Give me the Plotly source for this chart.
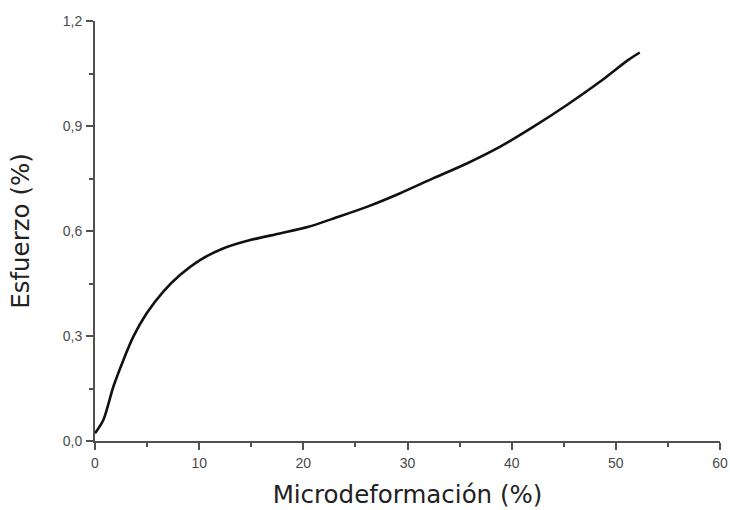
import plotly.graph_objects as go

# Data
strain = [0.0, 0.8, 1.76, 2.72, 3.68, 4.96, 6.56, 8.16, 10.08, 12.3, 14.9, 17.75,
          20.5, 22.9, 26.1, 29.3, 32.5, 35.7, 38.9, 42.1, 45.3, 48.5, 51.2, 52.3]
stress = [0.022, 0.06, 0.155, 0.231, 0.298, 0.365, 0.427, 0.474, 0.517, 0.55, 0.574, 0.593,
          0.612, 0.636, 0.669, 0.708, 0.751, 0.793, 0.841, 0.898, 0.96, 1.027, 1.089, 1.11]

x_ticks = [0, 10, 20, 30, 40, 50, 60]
y_ticks = [0.0, 0.3, 0.6, 0.9, 1.2]

x_title = "Microdeformación (%)"
y_title = "Esfuerzo (%)"

fig = go.Figure()
fig.add_trace(go.Scatter(
    x=strain, y=stress, mode="lines",
    line=dict(color="#111111", width=2.6, shape="spline", smoothing=0.8),
    hoverinfo="skip", showlegend=False,
))

tick_font = dict(family="Liberation Sans, Arial, sans-serif", size=14, color="#4a4a4a")
title_font = dict(family="DejaVu Sans, sans-serif", size=24.5, color="#222222")

fig.update_layout(
    width=730, height=510,
    margin=dict(l=95, r=10, t=21, b=69, autoexpand=False),
    paper_bgcolor="white", plot_bgcolor="white",
    separators=",.",
    showlegend=False,
)
fig.update_xaxes(
    range=[0, 60], tickvals=x_ticks, ticktext=[str(v) for v in x_ticks],
    showgrid=False, zeroline=False, automargin=False, ticklabeloverflow="allow",
    showline=True, linecolor="#505050", linewidth=2,
    ticks="outside", ticklen=7, tickwidth=2, tickcolor="#505050",
    minor=dict(dtick=5, tick0=0, ticks="outside", ticklen=4, tickwidth=2, tickcolor="#505050", showgrid=False),
    tickfont=tick_font, ticklabelstandoff=1,
    title=dict(text=x_title, font=title_font, standoff=16),
)
fig.update_yaxes(
    range=[0, 1.2], tickvals=y_ticks, tickformat=".1f",
    showgrid=False, zeroline=False, automargin=False, ticklabeloverflow="allow",
    showline=True, linecolor="#505050", linewidth=2,
    ticks="outside", ticklen=7, tickwidth=2, tickcolor="#505050",
    minor=dict(dtick=0.15, tick0=0, ticks="outside", ticklen=4, tickwidth=2, tickcolor="#505050", showgrid=False),
    tickfont=tick_font, ticklabelstandoff=1,
    title=dict(text=y_title, font=title_font, standoff=26),
)

# remove the default page margin so the 730x510 figure fills the window exactly
fig.write_html(
    "out.html",
    config={"displayModeBar": False, "staticPlot": True},
    post_script="document.body.style.margin='0';document.documentElement.style.overflow='hidden';",
)
